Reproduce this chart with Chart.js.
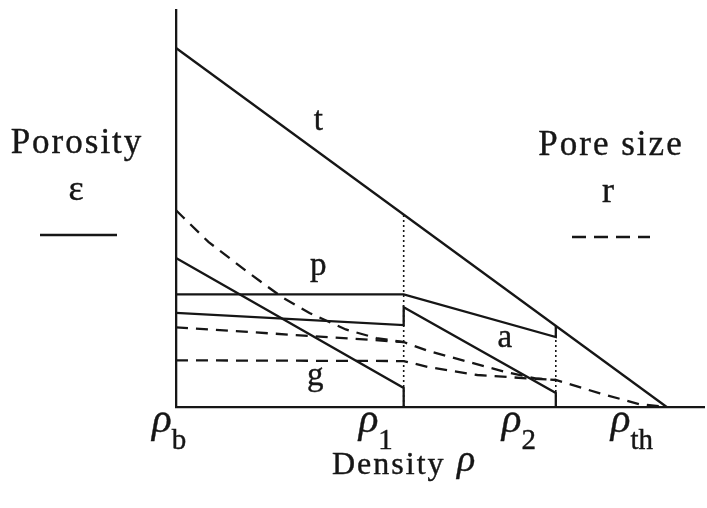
<!DOCTYPE html>
<html>
<head>
<meta charset="utf-8">
<title>Porosity and pore size vs density</title>
<script src="https://cdn.jsdelivr.net/npm/chart.js@4"></script>
<style>
  html, body { margin: 0; padding: 0; background: #ffffff; }
  canvas { display: block; }
</style>
</head>
<body>
<canvas id="grafico" width="707" height="508"></canvas>
<script>
// relative densities on the x axis
const rhoB = 0.5, rho1 = 0.732, rho2 = 0.887, rhoTh = 1.0;
const xTicks = [rhoB, rho1, rho2, rhoTh];
const xTickSubs = ["b", "1", "2", "th"];

// porosity curves (solid) as [rho, eps]
const tLine = [[rhoB, 0.5], [rhoTh, 0]];
const pLine = [[rhoB, 0.157], [rho1, 0.157], [rho2, 0.0975], [rho2, 0.113]];
const aLine = [[rhoB, 0.131], [rho1, 0.114], [rho1, 0.139], [rho2, 0.0195], [rho2, 0]];
const gLine = [[rhoB, 0.2075], [rho1, 0.0265], [rho1, 0]];

// pore size curves (dashed)
const rCurve = [[0.5, 0.274], [0.507, 0.2646], [0.533, 0.23], [0.573, 0.188], [0.609, 0.152],
  [0.636, 0.131], [0.673, 0.108], [0.704, 0.096], [0.732, 0.0905], [0.757, 0.078],
  [0.784, 0.068], [0.835, 0.049], [0.866, 0.04], [0.887, 0.0376], [0.932, 0.019],
  [0.972, 0.004], [1.0, 0]];
const rUpper = [[0.5, 0.111], [0.732, 0.0905]];
const rLower = [[0.5, 0.065], [0.732, 0.064], [0.757, 0.0557], [0.807, 0.0446],
  [0.857, 0.04], [0.887, 0.0376]];

// dotted guides at rho1 and rho2
const guide1 = [[rho1, 0], [rho1, 0.268]];
const guide2 = [[rho2, 0], [rho2, 0.113]];

// region letters [text, rho, eps]
const regionLabels = [["t", 0.645, 0.386], ["p", 0.645, 0.184], ["g", 0.642, 0.03], ["a", 0.835, 0.083]];

const INK = "#161616";
const SERIF = "'Liberation Serif', 'Times New Roman', serif";
const toPts = arr => arr.map(p => ({ x: p[0], y: p[1] }));

function serie(arr, dash, width) {
  return {
    data: toPts(arr),
    borderColor: INK,
    borderWidth: width || 2.3,
    borderDash: dash || [],
    pointRadius: 0,
    tension: 0,
    fill: false,
    clip: false
  };
}

// fill + thin stroke so the serif text reads a bit heavier
function texto(ctx, s, x, y) {
  ctx.fillText(s, x, y);
  ctx.strokeText(s, x, y);
}

// texts around the plot: legend blocks, letters, density ticks
const textosPlugin = {
  id: "textos",
  afterDatasetsDraw(chart) {
    const ctx = chart.ctx;
    const xs = chart.scales.x, ys = chart.scales.y;
    ctx.save();
    ctx.fillStyle = INK;
    ctx.strokeStyle = INK;
    ctx.lineWidth = 0.4;
    ctx.textBaseline = "alphabetic";

    // letters inside the plot
    ctx.font = "33px " + SERIF;
    ctx.textAlign = "center";
    regionLabels.forEach(l => {
      texto(ctx, l[0], xs.getPixelForValue(l[1]), ys.getPixelForValue(l[2]));
    });

    // legend blocks
    ctx.font = "35px " + SERIF;
    ctx.letterSpacing = "2px";
    texto(ctx, "Porosity", 77, 153);
    texto(ctx, "Pore size", 611, 155);
    ctx.letterSpacing = "0px";
    ctx.font = "36px " + SERIF;
    texto(ctx, "\u03b5", 76, 200);
    texto(ctx, "r", 608, 202);

    ctx.lineWidth = 2.3;
    ctx.beginPath();
    ctx.moveTo(40, 235);
    ctx.lineTo(117, 235);
    ctx.stroke();
    ctx.setLineDash([14, 8]);
    ctx.beginPath();
    ctx.moveTo(572, 237);
    ctx.lineTo(650, 237);
    ctx.stroke();
    ctx.setLineDash([]);
    ctx.lineWidth = 0.4;

    // density ticks with subscripts
    const offsets = [-24, -45, -54, -56];
    ctx.textAlign = "left";
    xTicks.forEach((v, i) => {
      const x0 = xs.getPixelForValue(v) + offsets[i];
      ctx.font = "italic 41px " + SERIF;
      texto(ctx, "\u03c1", x0, 432);
      const w = ctx.measureText("\u03c1").width;
      ctx.font = "29px " + SERIF;
      texto(ctx, xTickSubs[i], x0 + w, 449);
    });

    // axis title
    ctx.font = "32px " + SERIF;
    ctx.letterSpacing = "2px";
    texto(ctx, "Density", 332, 474);
    ctx.letterSpacing = "0px";
    ctx.font = "italic 38px " + SERIF;
    texto(ctx, "\u03c1", 457, 471);
    ctx.restore();
  }
};

function desenhar() {
  new Chart(document.getElementById("grafico"), {
    type: "line",
    data: {
      datasets: [
        serie(guide1, [2, 3], 1.6),
        serie(guide2, [2, 3], 1.6),
        serie(tLine),
        serie(pLine),
        serie(aLine),
        serie(gLine),
        serie(rCurve, [12, 8]),
        serie(rUpper, [12, 8]),
        serie(rLower, [12, 8])
      ]
    },
    options: {
      responsive: false,
      devicePixelRatio: 1,
      animation: false,
      layout: { padding: { left: 176, right: 3, top: 10, bottom: 101 } },
      plugins: { legend: { display: false }, tooltip: { enabled: false } },
      scales: {
        x: {
          type: "linear",
          min: 0.5,
          max: 1.038,
          grid: { display: false, drawTicks: false },
          ticks: { display: false },
          border: { display: true, color: INK, width: 2.3 }
        },
        y: {
          min: 0,
          max: 0.553,
          grid: { display: false, drawTicks: false },
          ticks: { display: false },
          border: { display: true, color: INK, width: 2.3 }
        }
      }
    },
    plugins: [textosPlugin]
  });
}

// make sure the serif faces are ready before drawing on canvas
Promise.all([
  document.fonts.load("35px 'Liberation Serif'", "Porosity \u03b5"),
  document.fonts.load("italic 38px 'Liberation Serif'", "\u03c1")
]).then(desenhar, desenhar);
</script>
</body>
</html>
